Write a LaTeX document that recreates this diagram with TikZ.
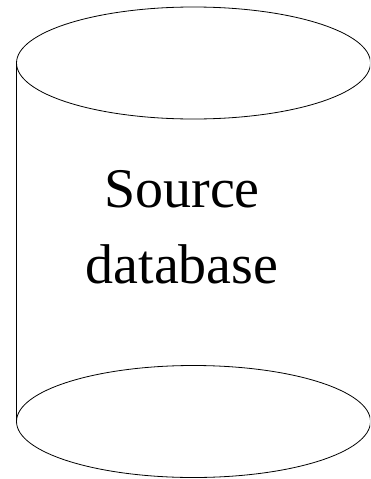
\documentclass[tikz,border=0pt]{standalone}
\usepackage{fontspec}
\setmainfont{Liberation Serif}
\usetikzlibrary{shapes.geometric}

\begin{document}
\begin{tikzpicture}[x=1pt, y=-1pt, line width=0.8pt,
  disc/.style={draw, ellipse, inner sep=0pt, minimum width=354pt, minimum height=112pt}]
\useasboundingbox (0,0) rectangle (370,479);
\clip (0,0) rectangle (370,479);
\node[disc] (top) at (193.5, 63) {};
\node[disc] (bottom) at (193.5, 421.5) {};
\node[align=center, inner sep=0pt, font=\fontsize{56}{76}\selectfont] (label) at (182, 227) {Source\\database};
\draw (top.west) -- (bottom.west);
\end{tikzpicture}
\end{document}
